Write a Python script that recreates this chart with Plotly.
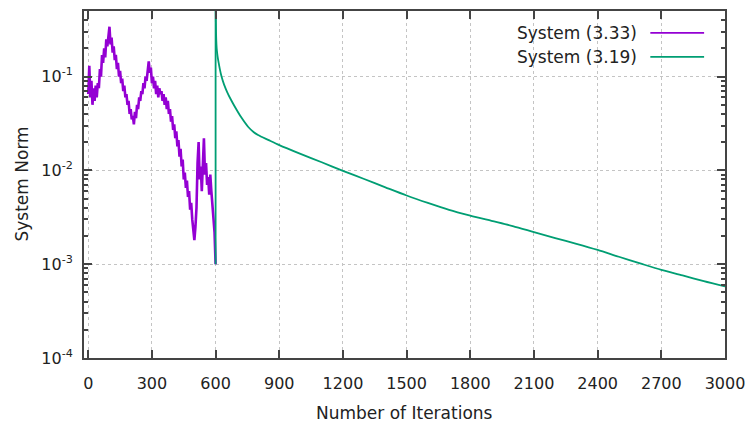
import plotly.graph_objects as go

# ---------------- data ----------------
series_names = ["System (3.33)", "System (3.19)"]
series_colors = ["#9400d3", "#009e73"]

purple_iter = list(range(0, 605, 5))
purple_norm = [
    0.065, 0.13, 0.06, 0.09, 0.05, 0.075, 0.055, 0.08, 0.06, 0.085,
    0.075, 0.12, 0.10, 0.17, 0.14, 0.20, 0.16, 0.25, 0.21, 0.30,
    0.34, 0.22, 0.26, 0.18, 0.21, 0.15, 0.17, 0.12, 0.14, 0.10,
    0.115, 0.085, 0.095, 0.07, 0.08, 0.06, 0.065, 0.05, 0.055, 0.04,
    0.045, 0.035, 0.038, 0.031, 0.042, 0.036, 0.05, 0.045, 0.06, 0.055,
    0.07, 0.065, 0.085, 0.075, 0.10, 0.09, 0.12, 0.145, 0.11, 0.125,
    0.085, 0.10, 0.075, 0.09, 0.065, 0.08, 0.06, 0.075, 0.065, 0.07,
    0.055, 0.065, 0.05, 0.06, 0.045, 0.055, 0.04, 0.045, 0.033, 0.038,
    0.027, 0.031, 0.022, 0.026, 0.018, 0.021, 0.014, 0.017, 0.011, 0.013,
    0.008, 0.0095, 0.0065, 0.0078, 0.0052, 0.006, 0.0038, 0.0045, 0.003, 0.0024,
    0.0018, 0.0025, 0.004, 0.012, 0.02, 0.008, 0.011, 0.006, 0.016, 0.022,
    0.009, 0.012, 0.007, 0.0085, 0.0055, 0.009, 0.006, 0.0045, 0.0035, 0.0022,
    0.001,
]

teal_jump_iter = [600, 600]
teal_jump_norm = [0.001, 0.9]

teal_iter = [600, 601, 602, 604, 606, 610, 615, 620, 628, 640, 655, 670,
             690, 720, 754, 780, 800, 850, 900, 1000, 1100, 1200, 1300, 1400,
             1500, 1600, 1700, 1800, 1900, 2000, 2100, 2200, 2300, 2400, 2500,
             2600, 2700, 2800, 2900, 3000]
teal_norm = [0.9, 0.45, 0.3, 0.22, 0.19, 0.16, 0.138, 0.12, 0.1, 0.082,
             0.068, 0.058, 0.048, 0.037, 0.029, 0.0255, 0.0238, 0.021, 0.0186,
             0.0150, 0.0122, 0.0099, 0.0081, 0.0066, 0.0054, 0.0045, 0.0038,
             0.0033, 0.0029, 0.00255, 0.0022, 0.0019, 0.00165, 0.00142, 0.0012,
             0.00102, 0.00087, 0.00076, 0.00066, 0.00058]

x_ticks = [0, 300, 600, 900, 1200, 1500, 1800, 2100, 2400, 2700, 3000]
y_ticks = [1e-4, 1e-3, 1e-2, 1e-1]
y_ticktext = ["10<sup>-4</sup>", "10<sup>-3</sup>", "10<sup>-2</sup>", "10<sup>-1</sup>"]
y_minor = [m * d for d in (1e-4, 1e-3, 1e-2, 1e-1) for m in range(2, 10)]

x_title = "Number of Iterations"
y_title = "System Norm"

# ---------------- figure ----------------
FONT = "DejaVu Sans"
TXT = "#222222"
AXC = "#444444"

fig = go.Figure()
fig.add_trace(go.Scatter(x=purple_iter, y=purple_norm, mode="lines",
                         line=dict(color=series_colors[0], width=2.6),
                         name=series_names[0], showlegend=False))
fig.add_trace(go.Scatter(x=teal_jump_iter, y=teal_jump_norm, mode="lines",
                         line=dict(color=series_colors[1], width=1.8),
                         showlegend=False))
fig.add_trace(go.Scatter(x=teal_iter, y=teal_norm, mode="lines",
                         line=dict(color=series_colors[1], width=1.8,
                                   shape="spline", smoothing=0.8),
                         name=series_names[1], showlegend=False))

axis_common = dict(
    showline=True, linecolor=AXC, linewidth=2, mirror="ticks",
    ticks="inside", ticklen=8, tickwidth=1.5, tickcolor=AXC,
    showgrid=True, gridcolor="#c4c4c4", griddash="dot", gridwidth=1,
    zeroline=False,
    tickfont=dict(family=FONT, size=16, color=TXT),
)

fig.update_xaxes(range=[-20, 3000], tickmode="array", tickvals=x_ticks,
                 ticklabelstandoff=10, **axis_common)
fig.update_yaxes(type="log", range=[-4, -0.301], tickmode="array",
                 tickvals=y_ticks, ticktext=y_ticktext,
                 ticklabelstandoff=6,
                 minor=dict(tickmode="array", tickvals=y_minor, ticks="inside",
                            ticklen=4, tickcolor=AXC, showgrid=False),
                 **axis_common)

annotations = [
    dict(text=x_title, xref="paper", yref="paper", x=0.5, y=0, yshift=-55,
         xanchor="center", yanchor="middle", showarrow=False,
         font=dict(family=FONT, size=17, color=TXT)),
    dict(text=y_title, xref="paper", yref="paper", x=0, y=0.5, xshift=-63,
         xanchor="center", yanchor="middle", textangle=-90, showarrow=False,
         font=dict(family=FONT, size=17, color=TXT)),
]
shapes = []
legend_rows = [0.937, 0.868]
for name, color, yy in zip(series_names, series_colors, legend_rows):
    annotations.append(dict(text=name, xref="paper", yref="paper", x=0.8665, y=yy,
                            xanchor="right", yanchor="middle", showarrow=False,
                            font=dict(family=FONT, size=17, color=TXT)))
    shapes.append(dict(type="line", xref="paper", yref="paper",
                       x0=0.8835, x1=0.9674, y0=yy, y1=yy,
                       line=dict(color=color, width=1.8)))

fig.update_layout(
    width=754, height=432,
    margin=dict(l=84, r=26, t=9, b=74),
    paper_bgcolor="white", plot_bgcolor="white",
    font=dict(family=FONT, color=TXT),
    annotations=annotations, shapes=shapes,
    showlegend=False,
)

fig.write_html("out.html")
